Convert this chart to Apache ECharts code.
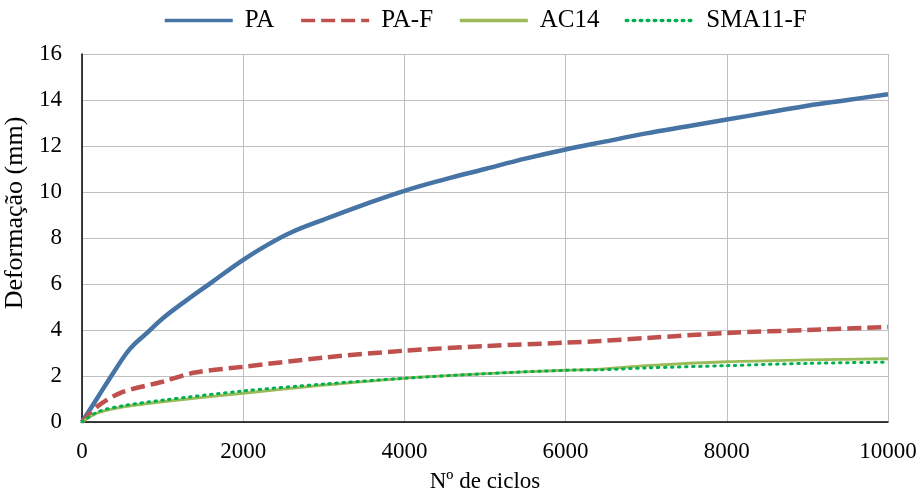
<!DOCTYPE html>
<html>
<head>
<meta charset="utf-8">
<script src="https://cdn.jsdelivr.net/npm/echarts@6/dist/echarts.min.js"></script>
<style>
  html, body { margin: 0; padding: 0; background: #fff; }
  #main { width: 920px; height: 492px; }
</style>
</head>
<body>
<div id="main"></div>
<script>
// valores (ciclos, deformação mm)
const paX = [0, 200, 400, 600, 800, 1000, 1300, 1600, 2000, 2300, 2600, 3000, 3500, 4000, 4500, 5000, 5500, 6000, 6500, 7000, 7500, 8000, 8500, 9000, 9500, 10000];
const paY = [0, 1.1, 2.2, 3.2, 3.85, 4.5, 5.3, 6.05, 7.05, 7.7, 8.25, 8.8, 9.45, 10.05, 10.55, 11.0, 11.45, 11.85, 12.2, 12.55, 12.85, 13.15, 13.45, 13.75, 14.0, 14.25];

const pafX = [0, 200, 500, 1000, 1400, 2000, 3000, 4000, 5000, 6000, 6430, 7000, 8000, 9000, 10000];
const pafY = [0, 0.7, 1.3, 1.75, 2.15, 2.4, 2.8, 3.1, 3.3, 3.45, 3.52, 3.65, 3.87, 4.0, 4.13];

const acX = [0, 200, 500, 1000, 2000, 3000, 4000, 5000, 6000, 6430, 7000, 8000, 9000, 10000];
const acY = [0, 0.4, 0.65, 0.88, 1.25, 1.6, 1.9, 2.1, 2.25, 2.3, 2.45, 2.62, 2.7, 2.75];

const smaX = [0, 200, 500, 1000, 2000, 3000, 4000, 5000, 6000, 6430, 7000, 8000, 9000, 10000];
const smaY = [0, 0.45, 0.7, 0.95, 1.35, 1.65, 1.9, 2.1, 2.25, 2.27, 2.35, 2.45, 2.55, 2.6];

const zip = (xs, ys) => xs.map((x, i) => [x, ys[i]]);

const FONT = 'Liberation Serif';
const chart = echarts.init(document.getElementById('main'));

chart.setOption({
  animation: false,
  textStyle: { fontFamily: FONT },
  legend: {
    top: 3,
    left: 158,
    itemWidth: 68,
    itemHeight: 14,
    itemGap: 25,
    itemStyle: { opacity: 0 },
    lineStyle: { width: 3.5 },
    textStyle: { fontFamily: FONT, fontSize: 25, color: '#000', padding: [0, 0, 0, 7] },
    data: ['PA', 'PA-F', 'AC14', 'SMA11-F']
  },
  grid: { left: 82, right: 32, top: 54, bottom: 70, outerBoundsMode: 'none' },
  xAxis: {
    type: 'value',
    min: 0, max: 10000, interval: 2000,
    name: 'Nº de ciclos',
    nameLocation: 'middle',
    nameGap: 48,
    nameTextStyle: { fontFamily: FONT, fontSize: 23, color: '#000' },
    axisLine: { show: true, lineStyle: { color: '#000', width: 1.5 } },
    axisTick: { show: false },
    axisLabel: { fontFamily: FONT, fontSize: 23, color: '#000', margin: 18, formatter: v => String(v) },
    splitLine: { show: true, lineStyle: { color: '#bfbfbf', width: 1 } }
  },
  yAxis: {
    type: 'value',
    min: 0, max: 16, interval: 2,
    name: 'Deformação (mm)',
    nameLocation: 'middle',
    nameGap: 37,
    nameTextStyle: { fontFamily: FONT, fontSize: 26, color: '#000', padding: [0, 0, 0, 50] },
    axisLine: { show: true, lineStyle: { color: '#000', width: 1.5 } },
    axisTick: { show: false },
    axisLabel: { fontFamily: FONT, fontSize: 23, color: '#000', margin: 20 },
    splitLine: { show: true, lineStyle: { color: '#bfbfbf', width: 1 } }
  },
  series: [
    {
      name: 'PA', type: 'line', data: zip(paX, paY), smooth: 0.4,
      showSymbol: false, symbol: 'none',
      lineStyle: { color: '#4674A5', width: 4.5 }, itemStyle: { color: '#4674A5' }
    },
    {
      name: 'PA-F', type: 'line', data: zip(pafX, pafY), smooth: 0.3,
      showSymbol: false, symbol: 'none',
      lineStyle: { color: '#C0504D', width: 4.5, type: [14, 6] }, itemStyle: { color: '#C0504D' }
    },
    {
      name: 'AC14', type: 'line', data: zip(acX, acY), smooth: 0.3,
      showSymbol: false, symbol: 'none',
      lineStyle: { color: '#9BBB59', width: 2.8 }, itemStyle: { color: '#9BBB59' }
    },
    {
      name: 'SMA11-F', type: 'line', data: zip(smaX, smaY), smooth: 0.3,
      showSymbol: false, symbol: 'none',
      lineStyle: { color: '#00B050', width: 3, type: [1.5, 5.5], cap: 'round' }, itemStyle: { color: '#00B050' }
    }
  ]
});
</script>
</body>
</html>
